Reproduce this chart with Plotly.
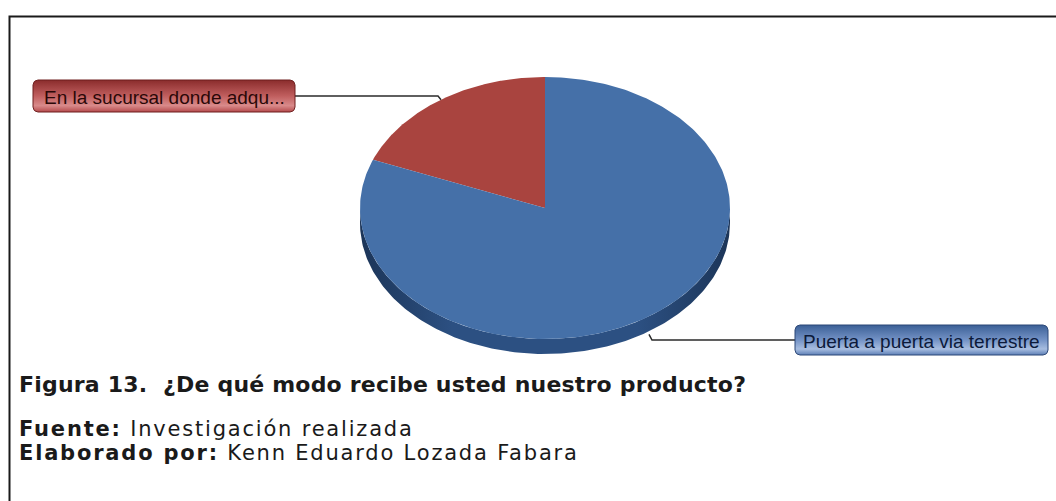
import numpy as np
import plotly.graph_objects as go

# Survey answers: how the product is received
categories = ["En la sucursal donde adqu...", "Puerta a puerta via terrestre"]
values = [19, 81]

title_text = "<b>Figura 13.  ¿De qué modo recibe usted nuestro producto?</b>"
source_text = "<b>Fuente:</b> Investigación realizada"
author_text = "<b>Elaborado por:</b> Kenn Eduardo Lozada Fabara"

# Styling / layout (pixel-based canvas)
W, H = 1056, 501
CX, CY, RX, RY, DEPTH = 545, 208, 185, 131, 15
top_colors = ["#A9443F", "#4570A8"]
side_colors = ["#7a2b28", "#2c5082"]
box_grad = [
    [[0, "#b54a4c"], [0.2, "#d98a8a"], [0.5, "#c05e5e"], [1, "#8a2c2c"]],
    [[0, "#5d7fb6"], [0.2, "#a7bde0"], [0.5, "#7493c6"], [1, "#3b5f96"]],
]
box_border = ["#6e1f1f", "#2b4676"]
text_colors = ["#2a0808", "#0c1a3a"]
# label boxes: x0, y0, x1, y1
boxes = [(33, 80, 295, 112), (795, 325, 1048, 355)]

fig = go.Figure()


def ell(t, dy=0.0):
    # t measured from 12 o'clock, counter-clockwise (towards the left)
    return CX - RX * np.sin(t), CY - RY * np.cos(t) + dy


fracs = np.array(values, dtype=float) / sum(values)
bounds = np.concatenate([[0], np.cumsum(fracs)]) * 2 * np.pi

# side wall of the disc (front half only is visible)
for i in range(len(values)):
    a0, a1 = bounds[i], bounds[i + 1]
    lo, hi = max(a0, np.pi / 2), min(a1, 3 * np.pi / 2)
    if hi <= lo:
        continue
    t = np.linspace(lo, hi, 200)
    xt, yt = ell(t)
    xb, yb = ell(t[::-1], DEPTH)
    fig.add_trace(go.Scatter(
        x=np.concatenate([xt, xb]), y=np.concatenate([yt, yb]),
        mode="lines", fill="toself", line=dict(width=0),
        fillgradient=dict(type="horizontal", colorscale=[
            [0, "#1c3558"], [0.25, side_colors[i]], [0.75, side_colors[i]], [1, "#1c3558"]]),
        hoverinfo="skip", showlegend=False))

# top face slices
for i in range(len(values)):
    t = np.linspace(bounds[i], bounds[i + 1], 300)
    xs, ys = ell(t)
    fig.add_trace(go.Scatter(
        x=np.concatenate([[CX], xs, [CX]]), y=np.concatenate([[CY], ys, [CY]]),
        mode="lines", fill="toself", fillcolor=top_colors[i], line=dict(width=0),
        name=categories[i], hoverinfo="name", showlegend=False))


def rounded_box(x0, y0, x1, y1, r=5, n=8):
    pts = []
    corners = [(x1 - r, y0 + r, -np.pi / 2, 0), (x1 - r, y1 - r, 0, np.pi / 2),
               (x0 + r, y1 - r, np.pi / 2, np.pi), (x0 + r, y0 + r, np.pi, 1.5 * np.pi)]
    for cx, cy, s, e in corners:
        a = np.linspace(s, e, n)
        pts += list(zip(cx + r * np.cos(a), cy + r * np.sin(a)))
    pts.append(pts[0])
    return [p[0] for p in pts], [p[1] for p in pts]


# callout labels with leader lines
for i in range(len(values)):
    mid = (bounds[i] + bounds[i + 1]) / 2
    front = np.pi / 2 < mid < 3 * np.pi / 2
    ax, ay = ell(mid, DEPTH + 3 if front else 0)
    x0, y0, x1, y1 = boxes[i]
    cy = (y0 + y1) / 2
    left_side = (x1 + x0) / 2 < CX
    ex = ax - 3 if left_side else ax + 3
    bx = x1 if left_side else x0
    fig.add_trace(go.Scatter(x=[ax, ex, bx], y=[ay, cy, cy], mode="lines",
                             line=dict(color="#2b2b2b", width=1.5),
                             hoverinfo="skip", showlegend=False))
    bxs, bys = rounded_box(x0, y0, x1, y1)
    fig.add_trace(go.Scatter(x=bxs, y=bys, mode="lines", fill="toself",
                             line=dict(color=box_border[i], width=1),
                             fillgradient=dict(type="vertical", colorscale=box_grad[i]),
                             hoverinfo="skip", showlegend=False))
    fig.add_annotation(x=(x0 + x1) / 2, y=cy + 1, xref="x", yref="y", text=categories[i],
                       showarrow=False, xanchor="center", yanchor="middle",
                       font=dict(family="Liberation Sans, Arial", size=19, color=text_colors[i]))

# frame around the chart
fig.add_shape(type="rect", xref="x", yref="y", x0=9.5, y0=16.5, x1=1080, y1=540,
              line=dict(color="#1a1a1a", width=2), layer="below")


def spaced(txt, px):
    return f'<span style="letter-spacing:{px}px">{txt}</span>'


cap_font = "DejaVu Sans, Verdana"
fig.add_annotation(x=17, y=384, xref="x", yref="y", text=spaced(title_text, 0.2), showarrow=False,
                   xanchor="left", yanchor="middle",
                   font=dict(family=cap_font, size=22, color="#1a1a1a"))
fig.add_annotation(x=17, y=429, xref="x", yref="y", text=spaced(source_text, 1.8), showarrow=False,
                   xanchor="left", yanchor="middle",
                   font=dict(family=cap_font, size=21, color="#1a1a1a"))
fig.add_annotation(x=17, y=453, xref="x", yref="y", text=spaced(author_text, 1.8), showarrow=False,
                   xanchor="left", yanchor="middle",
                   font=dict(family=cap_font, size=21, color="#1a1a1a"))

fig.update_layout(
    width=W, height=H, margin=dict(l=0, r=0, t=0, b=0),
    paper_bgcolor="white", plot_bgcolor="white",
    xaxis=dict(range=[0, W], visible=False, fixedrange=True),
    yaxis=dict(range=[H, 0], visible=False, fixedrange=True),
)

fig.write_html("out.html")
